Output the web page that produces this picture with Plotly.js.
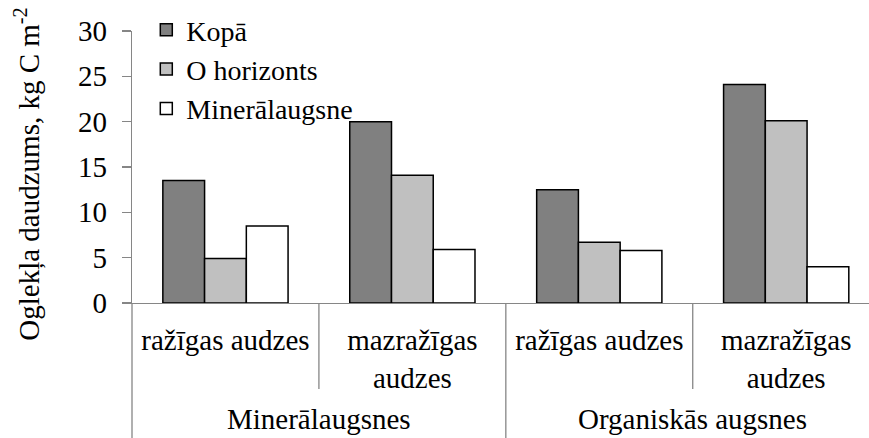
<!DOCTYPE html>
<html>
<head>
<meta charset="utf-8">
<script src="https://cdn.plot.ly/plotly-3.0.1.min.js"></script>
<style>
html,body{margin:0;padding:0;background:#fff;overflow:hidden}
#chart{width:869px;height:438px}
</style>
</head>
<body>
<div id="chart"></div>
<script>
// ---- data ----
const categories = ["M1", "M2", "O1", "O2"];
const innerLabels = ["ražīgas audzes", "mazražīgas<br>audzes", "ražīgas audzes", "mazražīgas<br>audzes"];
const outerLabels = ["Minerālaugsnes", "Organiskās augsnes"];
const seriesNames = ["Kopā", "O horizonts", "Minerālaugsne"];
const kopa = [13.5, 20.0, 12.5, 24.1];
const oHorizonts = [4.9, 14.1, 6.7, 20.1];
const mineralaugsne = [8.5, 5.9, 5.8, 4.0];
const yTicks = [0, 5, 10, 15, 20, 25, 30];
const yTitle = "Oglekļa daudzums, kg C m<sup>-2</sup>";

const colors = ["#808080", "#c0c0c0", "#ffffff"];
const seriesVals = [kopa, oHorizonts, mineralaugsne];

const FONT = "Liberation Serif";
const AXC = "#868686";
const FS = 29;

const traces = seriesVals.map((vals, i) => ({
  type: "bar",
  name: seriesNames[i],
  x: categories,
  y: vals,
  legendgroup: "g" + i,
  marker: { color: colors[i], line: { color: "#000", width: 1.5 } },
  hoverinfo: "skip"
}));

const shapes = [
  { type: "line", xref: "paper", yref: "paper", x0: 0, x1: 0, y0: 0, y1: -0.5, line: { color: AXC, width: 1.3 } },
  { type: "line", xref: "x", yref: "paper", x0: 1.5, x1: 1.5, y0: 0, y1: -0.5, line: { color: AXC, width: 1.3 } },
  { type: "line", xref: "x", yref: "paper", x0: 0.5, x1: 0.5, y0: 0, y1: -0.316, line: { color: AXC, width: 1.3 } },
  { type: "line", xref: "x", yref: "paper", x0: 2.5, x1: 2.5, y0: 0, y1: -0.316, line: { color: AXC, width: 1.3 } }
];

const annotations = outerLabels.map((t, i) => ({
  text: t, xref: "x", yref: "paper", x: 0.5 + 2 * i, y: -0.4926,
  xanchor: "center", yanchor: "bottom", showarrow: false,
  font: { family: FONT, size: FS, color: "#000" }
}));
annotations.push({
  text: yTitle, xref: "paper", yref: "paper", x: -0.143, y: 0.474,
  xanchor: "center", yanchor: "middle", textangle: -90, showarrow: false,
  font: { family: FONT, size: FS, color: "#000" }
});

const layout = {
  width: 869, height: 438,
  margin: { l: 131.7, r: 0, t: 31, b: 135 },
  paper_bgcolor: "#fff", plot_bgcolor: "#fff",
  font: { family: FONT, size: FS, color: "#000" },
  barmode: "group", bargap: 0.33, bargroupgap: 0,
  showlegend: true,
  legend: {
    x: 0.0194, y: 1.0956, xanchor: "left", yanchor: "top",
    bgcolor: "rgba(0,0,0,0)", font: { family: FONT, size: 28, color: "#000" },
    traceorder: "grouped", tracegroupgap: 0
  },
  xaxis: {
    type: "category", range: [-0.5, 3.443],
    tickvals: categories, ticktext: innerLabels,
    showline: true, linecolor: AXC, linewidth: 1.3,
    ticks: "", showgrid: false, zeroline: false,
    tickfont: { family: FONT, size: FS, color: "#000" }, ticklabelstandoff: 11
  },
  yaxis: {
    range: [0, 30], tickvals: yTicks,
    showline: true, linecolor: AXC, linewidth: 1.3,
    ticks: "outside", ticklen: 9, tickcolor: AXC, tickwidth: 1.3,
    showgrid: false, zeroline: false,
    tickfont: { family: FONT, size: FS, color: "#000" }, ticklabelstandoff: 9
  },
  shapes: shapes,
  annotations: annotations
};

Plotly.newPlot("chart", traces, layout, { displayModeBar: false, staticPlot: true });
</script>
</body>
</html>
